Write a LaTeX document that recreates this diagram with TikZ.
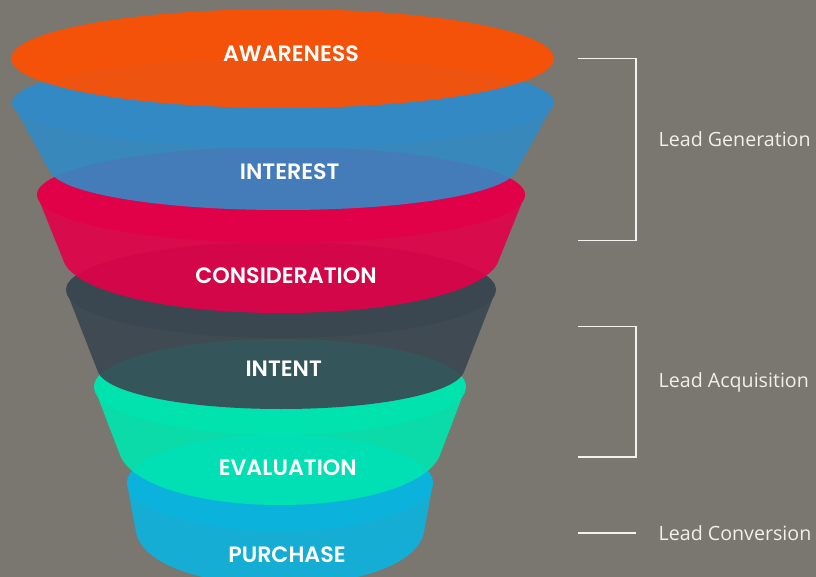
\documentclass[tikz,border=0pt]{standalone}
\usepackage{fontspec}
\setmainfont{Open Sans}
\newfontfamily\popsb{Poppins SemiBold}
\definecolor{bg}{HTML}{79776F}
\definecolor{cOrange}{HTML}{FF4F00}
\definecolor{cBlue}{HTML}{328AC5}
\definecolor{cRed}{HTML}{E30049}
\definecolor{cDark}{HTML}{3A4650}
\definecolor{cGreen}{HTML}{00E5B0}
\definecolor{cCyan}{HTML}{0BB3DE}
\definecolor{cLine}{HTML}{F2F2F0}
\definecolor{cSide}{HTML}{F0F0EC}
\newcommand\funnelbowl[9]{%
  \pgfmathsetmacro\fbL{#1-#3}%
  \pgfmathsetmacro\fbR{#1+#3}%
  \pgfmathsetmacro\fcL{#1-#5}%
  \pgfmathsetmacro\fcR{#1+#5}%
  \pgfmathsetmacro\fslope{(#3-#5)/(#6-#2)}%
  \pgfmathsetmacro\fh{#9*(#7-#6)}%
  \pgfmathsetmacro\faL{#1-#5+\fslope*\fh}%
  \pgfmathsetmacro\faR{#1+#5-\fslope*\fh}%
  \pgfmathsetmacro\fay{#6+\fh}%
  \pgfmathsetmacro\fdL{#1-0.55*#5}%
  \pgfmathsetmacro\fdR{#1+0.55*#5}%
  \pgfmathsetmacro\ftop{#2-#4}%
  \pgfmathsetmacro\fky{#2-0.5523*#4}%
  \pgfmathsetmacro\fkL{#1-0.5523*#3}%
  \pgfmathsetmacro\fkR{#1+0.5523*#3}%
  \fill[bowlwall,#8] (\fbL,#2) -- (\fcL,#6) .. controls (\faL,\fay) and (\fdL,#7) .. (#1,#7)
     .. controls (\fdR,#7) and (\faR,\fay) .. (\fcR,#6) -- (\fbR,#2)
     .. controls (\fbR,\fky) and (\fkR,\ftop) .. (#1,\ftop)
     .. controls (\fkL,\ftop) and (\fbL,\fky) .. cycle;
  \fill[bowlwall,#8] (#1,#2) ellipse[x radius=#3, y radius=#4];
}
\begin{document}
\begin{tikzpicture}[x=1bp,y=-1bp,
  bowlwall/.style={fill opacity=0.9},
  stagelabel/.style={anchor=base, text=white, inner sep=0pt,
    font=\popsb\fontsize{22.3}{22.3}\selectfont},
  sidelabel/.style={anchor=base west, text=cSide, inner sep=0pt,
    font=\fontsize{19.7}{19.7}\selectfont},
  bracket/.style={draw=cLine, line width=1.4bp}]
\useasboundingbox (0,0) rectangle (816,577);
\fill[bg] (0,0) rectangle (816,577);
\begin{scope}
\clip (0,0) rectangle (816,577);
% bottom to top
\funnelbowl{280}{483}{153}{48}{144}{532}{585}{cCyan}{0.6}
\funnelbowl{280}{387}{186}{48}{160}{455}{505}{cGreen}{0.55}
\funnelbowl{281}{290}{215}{48}{183}{372}{409}{cDark}{0.55}
\funnelbowl{281}{195}{244}{48}{217}{262}{313}{cRed}{0.55}
\funnelbowl{283}{103}{271}{45}{233}{172}{210}{cBlue}{0.55}
\fill[cOrange, fill opacity=0.92] (282.5,58.5) ellipse[x radius=271.5, y radius=49.5];
\end{scope}
% stage labels
\node[stagelabel] (awareness) at (291,62) {AWARENESS};
\node[stagelabel] (interest) at (289.7,179.5) {INTEREST};
\node[stagelabel] (consideration) at (286,283) {CONSIDERATION};
\node[stagelabel] (intent) at (283.7,376) {INTENT};
\node[stagelabel] (evaluation) at (287.8,475) {EVALUATION};
\node[stagelabel] (purchase) at (287,562) {PURCHASE};
% brackets
\coordinate (g1) at (578,58.5);
\coordinate (g2) at (636,58.5);
\coordinate (g3) at (636,240.5);
\coordinate (g4) at (578,240.5);
\coordinate (a1) at (578,326.5);
\coordinate (a2) at (636,326.5);
\coordinate (a3) at (636,457);
\coordinate (a4) at (578,457);
\coordinate (c1) at (578,533);
\coordinate (c2) at (636,533);
\draw[bracket] (g1) -- (g2) -- (g3) -- (g4);
\draw[bracket] (a1) -- (a2) -- (a3) -- (a4);
\draw[bracket] (c1) -- (c2);
\node[sidelabel] (leadgen) at (658.5,146.5) {Lead Generation};
\node[sidelabel] (leadacq) at (658.5,387.3) {Lead Acquisition};
\node[sidelabel] (leadconv) at (658.5,540) {Lead Conversion};
\end{tikzpicture}
\end{document}
